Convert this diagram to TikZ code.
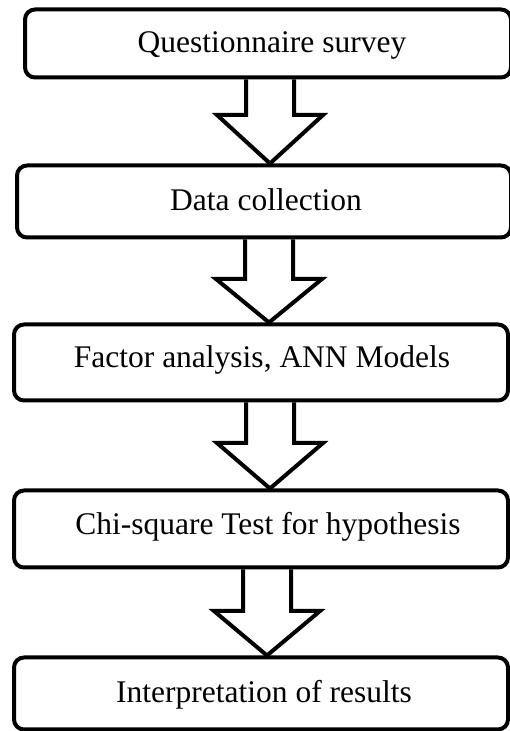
\documentclass[tikz,border=0pt]{standalone}
\usepackage{fontspec}
\setmainfont{Liberation Serif}
\usetikzlibrary{calc}
\tikzset{
  stepbox/.style={draw=black, line width=4pt, rounded corners=10pt, inner sep=0pt, fill=none},
  steptext/.style={inner sep=0pt, anchor=base, font=\fontsize{31.5}{36}\selectfont},
  blk/.style={draw=black, line width=4pt, miter limit=20, line join=miter}
}
\newcommand\blockarr[4]{%
  \draw[blk] let \p1=(#1.south), \p2=(#2.north) in
    ({#3pt-24pt},\y1) -- ({#3pt-24pt},{\y2+#4pt}) -- ({#3pt-53pt},{\y2+#4pt})
    -- (#3pt,\y2) -- ({#3pt+53pt},{\y2+#4pt}) -- ({#3pt+24pt},{\y2+#4pt})
    -- ({#3pt+24pt},\y1);
}
\begin{document}
\begin{tikzpicture}[x=1pt,y=1pt]
\useasboundingbox (0,0) rectangle (510,731);
\node[stepbox, minimum width=486pt, minimum height=68pt] (b1) at (268,687.5) {};
\node[stepbox, minimum width=494pt, minimum height=72pt] (b2) at (264,529.5) {};
\node[stepbox, minimum width=494pt, minimum height=76pt] (b3) at (261,368.5) {};
\node[stepbox, minimum width=494pt, minimum height=77pt] (b4) at (261,202) {};
\node[stepbox, minimum width=494pt, minimum height=72pt] (b5) at (261,37.5) {};
\node[steptext] (t1) at (272,678) {Questionnaire survey};
\node[steptext] (t2) at (266,520) {Data collection};
\node[steptext] (t3) at (262,363) {Factor analysis, ANN Models};
\node[steptext] (t4) at (268,196) {Chi-square Test for hypothesis};
\node[steptext] (t5) at (264,28) {Interpretation of results};
\blockarr{b1}{b2}{270}{48.5}
\blockarr{b2}{b3}{269}{43.5}
\blockarr{b3}{b4}{270}{45.5}
\blockarr{b4}{b5}{267}{44.5}
\end{tikzpicture}
\end{document}
